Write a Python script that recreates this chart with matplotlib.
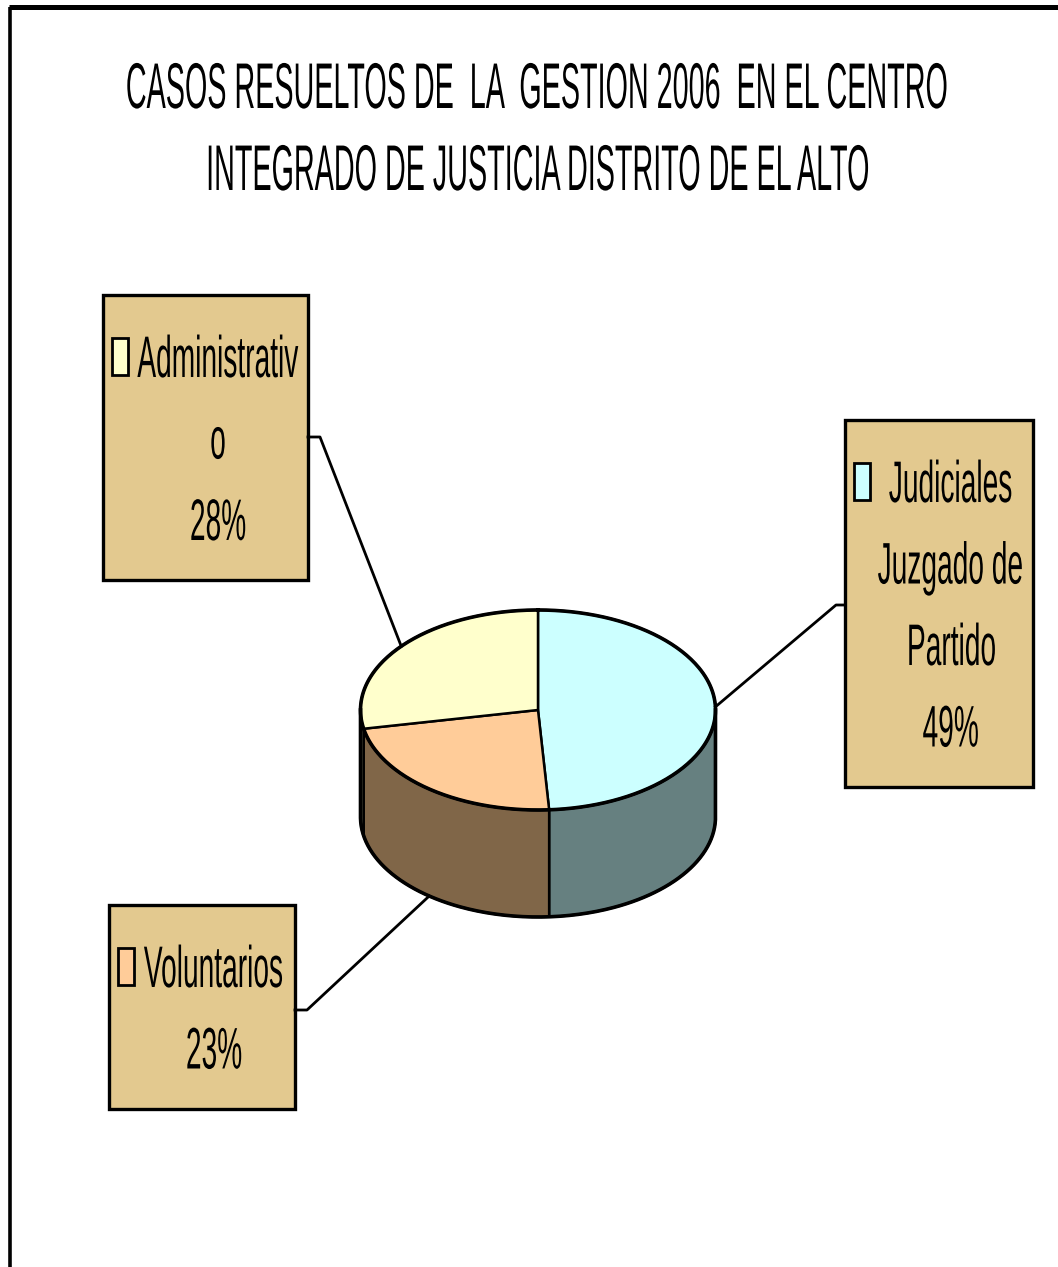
import matplotlib

matplotlib.use("Agg")
import matplotlib.pyplot as plt
import numpy as np
from matplotlib import patheffects
from matplotlib.patches import Polygon, Rectangle
from matplotlib.text import Text
from matplotlib.transforms import Affine2D, Bbox

W, H = 1058, 1267

title_lines = [
    "CASOS RESUELTOS DE  LA  GESTION 2006  EN EL CENTRO",
    "INTEGRADO DE JUSTICIA DISTRITO DE EL ALTO",
]
categories = ["Judiciales Juzgado de Partido", "Voluntarios", "Administrativo"]
label_lines = [
    ["Judiciales", "Juzgado de", "Partido"],
    ["Voluntarios"],
    ["Administrativ", "o"],
]
percentages = [49, 23, 28]
top_colors = ["#CCFFFF", "#FFCC99", "#FFFFCC"]
side_colors = ["#668080", "#806648", "#808066"]

# pie geometry in pixels (y grows downwards)
CX, CY, RX, RY, DEPTH = 538, 710, 177.5, 100, 107
BOX_COLOR = "#E3C98F"
LINE_GAP = 81.5
# label box (left, top, right, bottom), text centre x, first baseline, elbow of leader
label_layout = [
    dict(rect=(845, 420, 1033, 787), tx=951, base=502, elbow=(836, 605), edge=845),
    dict(rect=(109, 905, 295, 1109), tx=214, base=987, elbow=(307, 1010), edge=295),
    dict(rect=(103, 295, 308, 580), tx=218, base=377, elbow=(320, 437), edge=308),
]


class Condensed(patheffects.AbstractPathEffect):
    """Squeeze glyphs horizontally around the line centre (narrow Arial look)."""

    def __init__(self, sx):
        super().__init__()
        self.sx = sx

    def draw_path(self, renderer, gc, tpath, affine, rgbFace=None):
        ext = tpath.get_extents()
        mid = (ext.x0 + ext.x1) / 2
        squeeze = Affine2D().translate(-mid, 0).scale(self.sx, 1).translate(mid, 0)
        renderer.draw_path(gc, tpath, squeeze + affine, rgbFace)


class CondensedText(Text):
    """Centred text drawn squeezed; reports the squeezed extent too."""

    def __init__(self, x, y, s, sx=1.0, **kw):
        super().__init__(x, y, s, ha="center", va="baseline", **kw)
        self._sx = sx
        self.set_path_effects([Condensed(sx)])

    def get_window_extent(self, renderer=None, dpi=None):
        bb = super().get_window_extent(renderer, dpi)
        xm = (bb.x0 + bb.x1) / 2
        half = (bb.x1 - bb.x0) * self._sx / 2
        return Bbox([[xm - half, bb.y0], [xm + half, bb.y1]])


def ell(theta_deg, dy=0.0):
    t = np.radians(theta_deg)
    return CX + RX * np.sin(t), CY - RY * np.cos(t) + dy


def main() -> None:
    fig = plt.figure(figsize=(W / 100, H / 100), dpi=100)
    ax = fig.add_axes([0, 0, 1, 1])
    ax.set_xlim(0, W)
    ax.set_ylim(H, 0)
    ax.axis("off")

    # frame
    ax.plot([10, 10], [H, 7], color="black", lw=2.6, solid_capstyle="butt")
    ax.plot([8.5, W], [7, 7], color="black", lw=3.6, solid_capstyle="butt")

    for i, line in enumerate(title_lines):
        ax.add_artist(CondensedText(537, 108 + 82 * i, line, sx=0.445,
                                    fontsize=46.5, family="Liberation Sans"))

    bounds = np.concatenate([[0], np.cumsum(percentages)]) * 3.6

    # front side of the cylinder
    for k in range(len(percentages)):
        a, b = max(bounds[k], 90), min(bounds[k + 1], 270)
        if a >= b:
            continue
        th = np.linspace(a, b, 120)
        xt, yt = ell(th)
        xb, yb = ell(th[::-1], DEPTH)
        pts = np.column_stack([np.concatenate([xt, xb]), np.concatenate([yt, yb])])
        ax.add_patch(Polygon(pts, closed=True, facecolor=side_colors[k],
                             edgecolor="black", lw=1.8, joinstyle="round"))
    th = np.linspace(90, 270, 240)
    xb, yb = ell(th, DEPTH)
    ax.plot(np.concatenate([[xb[0]], xb, [xb[-1]]]),
            np.concatenate([[ell(90)[1]], yb, [ell(270)[1]]]),
            color="black", lw=2.6, solid_joinstyle="round")

    # top face
    for k in range(len(percentages)):
        th = np.linspace(bounds[k], bounds[k + 1], 200)
        xt, yt = ell(th)
        pts = np.column_stack([np.concatenate([[CX], xt]), np.concatenate([[CY], yt])])
        ax.add_patch(Polygon(pts, closed=True, facecolor=top_colors[k],
                             edgecolor="black", lw=1.8, joinstyle="round"))
    xt, yt = ell(np.linspace(0, 360, 400))
    ax.plot(xt, yt, color="black", lw=2.6)

    # data labels with leader lines
    for k, lay in enumerate(label_layout):
        mid = (bounds[k] + bounds[k + 1]) / 2
        front = 90 < mid < 270
        ax_, ay_ = ell(mid, DEPTH if front else 0)
        ex, ey = lay["elbow"]
        ax.plot([ax_, ex, lay["edge"]], [ay_, ey, ey], color="black", lw=2.0)

        l, t, r, b = lay["rect"]
        ax.add_patch(Rectangle((l, t), r - l, b - t, facecolor=BOX_COLOR,
                               edgecolor="black", lw=2.4))
        lines = label_lines[k] + [f"{percentages[k]}%"]
        for i, line in enumerate(lines):
            ax.add_artist(CondensedText(lay["tx"], lay["base"] + LINE_GAP * i, line,
                                        sx=0.48, fontsize=42.2,
                                        family="Liberation Sans"))
        ax.add_patch(Rectangle((l + 8.5, lay["base"] - 39.5), 16, 37,
                               facecolor=top_colors[k], edgecolor="black", lw=2.0))

    fig.savefig("out.png", dpi=100)
    plt.close(fig)


if __name__ == "__main__":
    main()
